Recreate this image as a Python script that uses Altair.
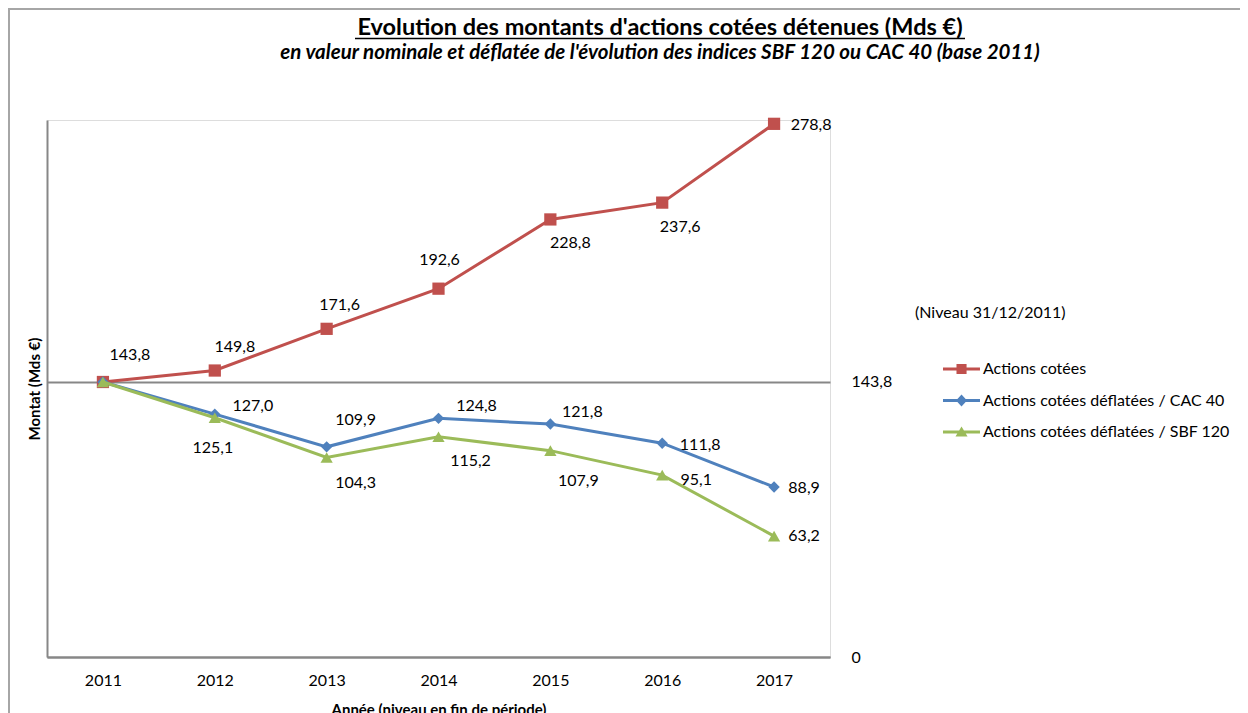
import altair as alt
import pandas as pd

# ---------------- data ----------------
years = ["2011", "2012", "2013", "2014", "2015", "2016", "2017"]
series_names = [
    "Actions cotées",
    "Actions cotées déflatées / CAC 40",
    "Actions cotées déflatées / SBF 120",
]
actions_cotees = [143.8, 149.8, 171.6, 192.6, 228.8, 237.6, 278.8]
deflatees_cac40 = [143.8, 127.0, 109.9, 124.8, 121.8, 111.8, 88.9]
deflatees_sbf120 = [143.8, 125.1, 104.3, 115.2, 107.9, 95.1, 63.2]
reference_ticks = [0, 143.8]

title_text = "Evolution des montants d'actions cotées détenues (Mds €)"
subtitle_text = "en valeur nominale  et déflatée de l'évolution des indices SBF 120 ou CAC 40 (base 2011)"
legend_title = "(Niveau 31/12/2011)"
x_title = "Année (niveau en fin de période)"
y_title = "Montat (Mds €)"

# ---------------- style ----------------
FONT = "Lato"
series_colors = ["#C0504D", "#4F81BD", "#9BBB59"]
marker_shapes = ["square", "diamond", "triangle-up"]
marker_sizes = [150, 130, 150]
AXIS_GREY = "#878787"
W, H = 783, 537

# label offsets in pixels (dx, dy) per series / year; None = no label
label_offsets = {
    series_names[0]: [(27, -27), (20, -24), (13, -24), (1, -29), (20, 24), (18, 24), (37, 1)],
    series_names[1]: [None, (38, -8), (29, -27), (38, -12), (32, -12), (38, 2), (30, 1)],
    series_names[2]: [None, (-2, 30), (29, 25), (32, 24), (28, 30), (34, 5), (30, 0)],
}

# legend symbols: line + marker (unit = 9 px)
legend_paths = [
    "M2.11,-0.17H6.22V0.17H2.11Z M3.61,-0.56H4.73V0.56H3.61Z",
    "M2.11,-0.17H6.22V0.17H2.11Z M4.17,-0.67L4.78,0L4.17,0.67L3.56,0Z",
    "M2.11,-0.17H6.22V0.17H2.11Z M4.17,-0.62L4.84,0.5H3.5Z",
]

values_by_series = [actions_cotees, deflatees_cac40, deflatees_sbf120]
rows = []
for name, vals in zip(series_names, values_by_series):
    for yr, v in zip(years, vals):
        rows.append(dict(year=yr, series=name, value=v))
df = pd.DataFrame(rows)

x_scale = alt.Scale(type="point", padding=0.5, domain=years)
y_scale = alt.Scale(domain=[0, 280.8], nice=False, zero=True)
color_scale = alt.Scale(domain=series_names, range=series_colors)

x_axis = alt.Axis(
    title=x_title,
    domainColor=AXIS_GREY,
    domainWidth=2,
    ticks=False,
    grid=False,
    labelFont=FONT,
    labelFontSize=16,
    labelColor="#000000",
    labelPadding=15,
    labelAngle=0,
    titleFont=FONT,
    titleFontSize=15,
    titleFontWeight="bold",
    titleColor="#000000",
    titlePadding=14,
)
y_axis_left = alt.Axis(
    title=y_title,
    orient="left",
    domainColor=AXIS_GREY,
    domainWidth=2,
    ticks=False,
    labels=False,
    grid=False,
    titleFont=FONT,
    titleFontSize=15,
    titleFontWeight="bold",
    titleColor="#000000",
    titlePadding=5,
)
y_axis_right = alt.Axis(
    title=None,
    orient="right",
    values=reference_ticks,
    labelExpr="datum.value == 0 ? '0' : replace(format(datum.value, '.1f'), '.', ',')",
    domain=False,
    ticks=False,
    grid=True,
    gridColor=AXIS_GREY,
    gridWidth=2,
    labelFont=FONT,
    labelFontSize=16,
    labelColor="#000000",
    labelPadding=21,
)


def xenc():
    return alt.X("year:O", scale=x_scale, axis=x_axis)


base = alt.Chart(df)
layers = []

# decorations: frame and title
one = alt.Chart(pd.DataFrame({"k": [0]}))
layers.append(
    one.mark_rule(color="#A6A6A6", strokeWidth=2).encode(
        x=alt.value(-39), x2=alt.value(W + 410), y=alt.value(-111)
    )
)
layers.append(
    one.mark_rule(color="#A6A6A6", strokeWidth=2).encode(
        x=alt.value(-38), y=alt.value(-111), y2=alt.value(H + 56)
    )
)
layers.append(
    one.mark_text(
        text=title_text, font=FONT, fontSize=23.5, fontWeight="bold",
        color="#000000", align="center", baseline="alphabetic",
    ).encode(x=alt.value(613), y=alt.value(-85.5))
)
layers.append(
    one.mark_rule(color="#000000", strokeWidth=1.5).encode(
        x=alt.value(308), x2=alt.value(918), y=alt.value(-81.5)
    )
)
layers.append(
    one.mark_text(
        text=subtitle_text, font=FONT, fontSize=20.5, fontWeight="bold",
        fontStyle="italic", color="#000000", align="center", baseline="alphabetic",
    ).encode(x=alt.value(613), y=alt.value(-61))
)

# series lines and markers
for i, name in enumerate(series_names):
    sub = base.transform_filter(alt.datum.series == name)
    layers.append(
        sub.mark_line(strokeWidth=3, color=series_colors[i]).encode(
            x=xenc(),
            y=alt.Y("value:Q", scale=y_scale, axis=y_axis_left if i == 0 else None),
        )
    )
    layers.append(
        sub.mark_point(
            filled=True, shape=marker_shapes[i], size=marker_sizes[i],
            opacity=1, strokeWidth=0, color=series_colors[i],
        ).encode(
            x=xenc(),
            y=alt.Y("value:Q", scale=y_scale, axis=y_axis_right if i == 0 else None),
        )
    )

# data labels (one small layer per label, offset from its point)
for name in series_names:
    for yr, off in zip(years, label_offsets[name]):
        if off is None:
            continue
        layers.append(
            base.transform_filter((alt.datum.series == name) & (alt.datum.year == yr))
            .transform_calculate(label="replace(format(datum.value, '.1f'), '.', ',')")
            .mark_text(
                font=FONT, fontSize=16, color="#000000", align="center",
                baseline="middle", dx=off[0], dy=off[1],
            )
            .encode(
                x=xenc(),
                y=alt.Y("value:Q", scale=y_scale, axis=None),
                text="label:N",
            )
        )

# legend layer (no visible marks)
legend_cfg = dict(
    orient="none",
    legendX=868,
    legendY=185,
    title=legend_title,
    titleFont=FONT,
    titleFontSize=16,
    titleFontWeight="normal",
    titleColor="#000000",
    titlePadding=39,
    titleLimit=0,
    labelFont=FONT,
    labelFontSize=16,
    labelColor="#000000",
    labelOffset=50,
    labelLimit=0,
    symbolSize=324,
    symbolStrokeWidth=0,
    rowPadding=14.5,
    padding=0,
)
layers.append(
    base.transform_filter("false")
    .mark_point(filled=True, opacity=1)
    .encode(
        color=alt.Color("series:N", scale=color_scale, legend=alt.Legend(**legend_cfg)),
        shape=alt.Shape(
            "series:N",
            scale=alt.Scale(domain=series_names, range=legend_paths),
            legend=alt.Legend(**legend_cfg),
        ),
    )
)

chart = (
    alt.layer(*layers)
    .resolve_axis(y="independent")
    .properties(
        width=W,
        height=H,
        autosize=alt.AutoSizeParams(type="none"),
        padding={"left": 39, "top": 112, "right": 410, "bottom": 56},
    )
    .configure_view(stroke=None)
    .configure(background="#FFFFFF")
)

chart.save("out.html", embed_options={"renderer": "svg", "actions": False})
